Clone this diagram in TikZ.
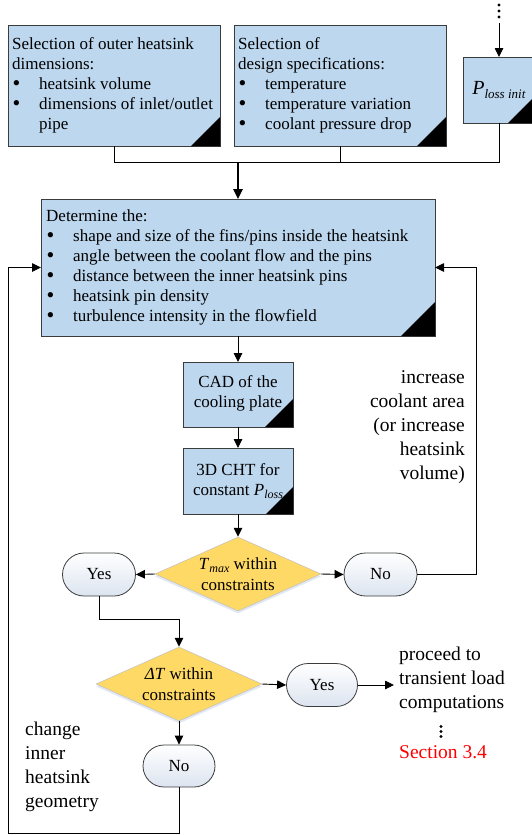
\documentclass[tikz,border=0pt]{standalone}
\usepackage{fontspec}
\setmainfont{Liberation Serif}
\usetikzlibrary{shapes.geometric,shapes.misc,arrows.meta,shadows}
\definecolor{boxblue}{RGB}{189,215,238}
\definecolor{gold}{RGB}{255,217,102}
\definecolor{ovalb}{RGB}{220,228,240}
\definecolor{edge}{RGB}{60,60,60}
\definecolor{glow}{RGB}{170,190,220}
\newcommand{\bul}{\makebox[27pt][l]{\hspace*{0.5pt}\raisebox{-0.5pt}{\scalebox{1.3}{\textbullet}}}}
\begin{document}
\begin{tikzpicture}[x=1pt,y=-1pt,font=\fontsize{17}{20}\selectfont,
  box/.style={draw=edge, line width=0.9pt, fill=boxblue, inner sep=0, outer sep=0},
  btxt/.style={align=left, inner sep=0, anchor=west},
  ctxt/.style={align=center, inner sep=0},
  oval/.style={rounded rectangle, draw=edge, line width=0.8pt, top color=white, bottom color=ovalb, minimum width=72, minimum height=43, inner sep=0},
  dia/.style={diamond, fill=gold, draw=gray!50, line width=0.5pt, inner sep=0, minimum width=166, minimum height=74,
    drop shadow={shadow xshift=0pt, shadow yshift=-2.5pt, opacity=0.35, fill=glow}},
  conn/.style={draw=black, line width=0.9pt},
  arr/.style={conn, -{Triangle[length=9pt,width=8.5pt]}},
  side/.style={font=\fontsize{19.5}{24}\selectfont, inner sep=0},
  dotn/.style={circle, fill=black, inner sep=0, minimum size=3.4pt}]
\useasboundingbox (0,0) rectangle (531,835);

% top boxes
\node[box, minimum width=212, minimum height=121] (b1) at (114,85.5) {};
\node[btxt] (b1t) at (12,85.5) {Selection of outer heatsink\\dimensions:\\\bul heatsink volume\\\bul dimensions of inlet/outlet\\\hspace*{27pt}pipe};
\fill (b1.south east) -- ++(-29,0) -- ++(29,-29) -- cycle;

\node[box, minimum width=212, minimum height=121] (b2) at (340,85.5) {};
\node[btxt] (b2t) at (238,85.5) {Selection of\\design specifications:\\\bul temperature\\\bul temperature variation\\\bul coolant pressure drop};
\fill (b2.south east) -- ++(-29,0) -- ++(29,-29) -- cycle;

\node[box, minimum width=72, minimum height=66] (pl) at (499,90) {};
\node[ctxt] (plt) at (499,90) {{\fontsize{20}{24}\selectfont\textit{P}}{\fontsize{13}{15}\selectfont\raisebox{-3.5pt}{\textit{loss init}}}};
\fill (pl.south east) -- ++(-27,0) -- ++(27,-27) -- cycle;

\node[dotn] (pd1) at (499,5) {};
\node[dotn] (pd2) at (499,11) {};
\node[dotn] (pd3) at (499,17) {};
\coordinate (ptop) at (499,23);
\draw[arr] (ptop) -- (pl.north);

% determine box
\node[box, minimum width=394, minimum height=137] (det) at (238,267.5) {};
\node[btxt] (dett) at (46,267.5) {Determine the:\\\bul shape and size of the fins/pins inside the heatsink\\\bul angle between the coolant flow and the pins\\\bul distance between the inner heatsink pins\\\bul heatsink pin density\\\bul turbulence intensity in the flowfield};
\fill (det.south east) -- ++(-34,0) -- ++(34,-34) -- cycle;

% merge
\coordinate (mj) at (238,162);
\draw[conn] (b1.south) |- (mj);
\draw[conn] (b2.south) |- (mj);
\draw[conn] (pl.south) |- (mj);
\draw[draw=black, line width=1.6pt, -{Triangle[length=10pt,width=9.5pt]}] (mj) -- (det.north);

% CAD and CHT
\node[box, minimum width=110, minimum height=65] (cad) at (238,394.5) {};
\node[ctxt] (cadt) at (238,393.5) {CAD of the\\cooling plate};
\fill (cad.south east) -- ++(-28,0) -- ++(28,-28) -- cycle;

\node[box, minimum width=110, minimum height=66] (cht) at (238,481) {};
\node[ctxt] (chtt) at (238,481) {3D CHT for\\constant \textit{P}{\fontsize{12}{14}\selectfont\raisebox{-3pt}{\textit{loss}}}};
\fill (cht.south east) -- ++(-27,0) -- ++(27,-27) -- cycle;

\draw[arr] (det.south) -- (cad.north);
\draw[arr] (cad.south) -- (cht.north);

% decision 1
\node[dia] (d1) at (238,574) {};
\node[ctxt, font=\fontsize{17}{21}\selectfont] (d1t) at (238,574.5) {\textit{T}{\fontsize{12}{14}\selectfont\raisebox{-3pt}{\textit{max}}} within\\constraints};
\draw[arr] (cht.south) -- (d1.north);

\node[oval, minimum width=73] (no1) at (380.5,574.5) {No};
\node[oval, minimum width=73] (yes1) at (99,574.5) {Yes};
\draw[arr] (d1.east) -- (no1.west);
\draw[arr] (d1.west) -- (yes1.east);

\coordinate (rc) at (476,267.5);
\draw[arr] (no1.east) -| (rc) -- (det.east);
\node[side, align=right, anchor=east] (inc) at (465,427) {increase\\coolant area\\(or increase\\heatsink\\volume)};

% decision 2
\coordinate (yj) at (179,619);
\node[dia] (d2) at (179,684) {};
\node[ctxt, font=\fontsize{17}{21}\selectfont] (d2t) at (179,684.5) {\textit{ΔT} within\\constraints};
\draw[arr] (yes1.south) |- (yj) -- (d2.north);

\node[oval, minimum width=71] (yes2) at (322,685) {Yes};
\draw[arr] (d2.east) -- (yes2.west);

\node[side, align=left, anchor=west, inner xsep=5pt] (proc) at (394,680) {proceed to\\transient load\\computations};
\draw[arr] (yes2.east) -- (proc.west |- yes2.east);
\node[dotn] (cd1) at (441,726.5) {};
\node[dotn] (cd2) at (441,731.5) {};
\node[dotn] (cd3) at (441,736.5) {};
\node[side, anchor=west, text=red] (sec) at (399,752) {Section 3.4};

\node[oval, minimum width=72, minimum height=42] (no2) at (179,766) {No};
\draw[arr] (d2.south) -- (no2.north);

\coordinate (lc) at (8.5,833);
\draw[arr] (no2.south) |- (lc) |- (det.west);
\node[side, align=left, anchor=west] (chg) at (25,767) {change\\inner\\heatsink\\geometry};
\end{tikzpicture}
\end{document}
